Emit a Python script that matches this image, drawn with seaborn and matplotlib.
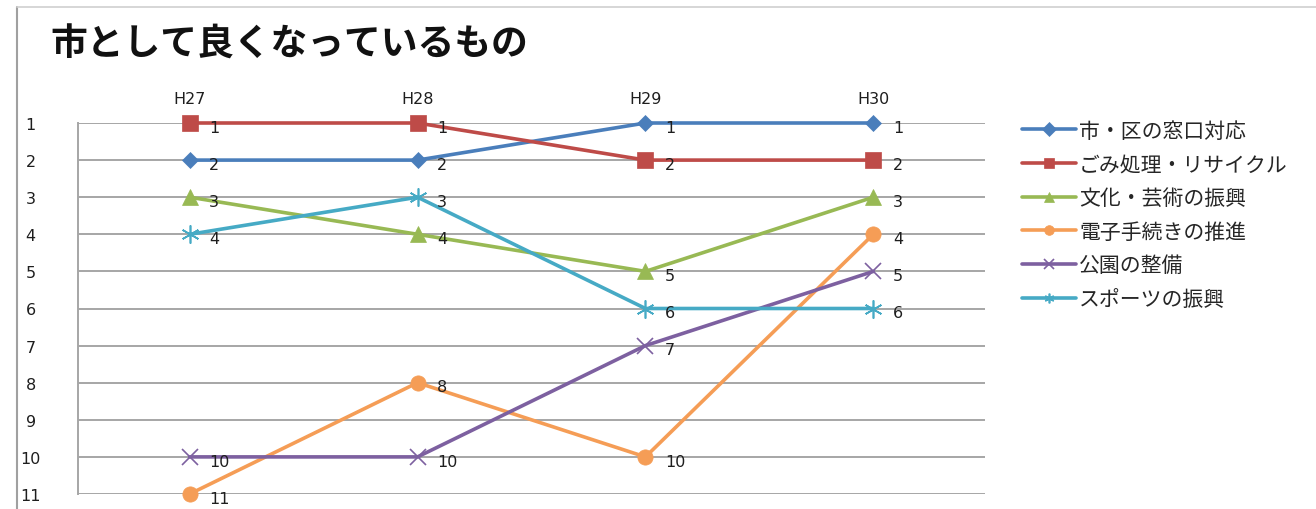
import matplotlib
matplotlib.use("Agg")
import matplotlib.pyplot as plt
import seaborn as sns
import pandas as pd

sns.set_theme(style="white")
plt.rcParams['font.family'] = ['Noto Sans CJK JP', 'DejaVu Sans']

years = ["H27", "H28", "H29", "H30"]
series_names = ["市・区の窓口対応", "ごみ処理・リサイクル", "文化・芸術の振興",
                "電子手続きの推進", "公園の整備", "スポーツの振興"]
madoguchi = [2, 2, 1, 1]
gomi = [1, 1, 2, 2]
bunka = [3, 4, 5, 3]
denshi = [11, 8, 10, 4]
koen = [10, 10, 7, 5]
sports = [4, 3, 6, 6]
values = [madoguchi, gomi, bunka, denshi, koen, sports]
rank_ticks = list(range(1, 12))

colors = ["#4A7EBB", "#BE4B48", "#98B954", "#F59D56", "#7D60A0", "#46AAC5"]
markers = ["D", "s", "^", "o", "x", (6, 2, 0)]
msizes = [8, 11, 11, 11, 11, 13]

fig = plt.figure(figsize=(13.16, 5.10), dpi=100)
ax = fig.add_axes([78/1316, 1-495/510, (985-78)/1316, (495-124)/510])

rows = []
for name, vals in zip(series_names, values):
    for i, v in enumerate(vals):
        rows.append({"x": i, "rank": v, "series": name})
df = pd.DataFrame(rows)

for name, c, m, ms in zip(series_names, colors, markers, msizes):
    sub = df[df["series"] == name]
    sns.lineplot(data=sub, x="x", y="rank", ax=ax, color=c, marker=m,
                 markersize=ms, linewidth=2.6, label=name,
                 markeredgecolor=c, markeredgewidth=1.2 if m in ("x", (6, 2, 0)) else 0.5)
    for xi, v in zip(sub["x"], sub["rank"]):
        ax.annotate(str(v), (xi, v), xytext=(14, -3), textcoords="offset points",
                    fontsize=11.5, color="#1E1E1E", va="center", ha="left",
                    fontfamily=['DejaVu Sans'])

ax.set_xlim(-0.49, 3.49)
ax.set_ylim(11, 1)
ax.set_yticks(rank_ticks)
ax.set_yticklabels([str(r) for r in rank_ticks], fontsize=11.5, color="#1E1E1E",
                   fontfamily=['DejaVu Sans'])
ax.set_xticks(range(len(years)))
ax.set_xticklabels(years, fontsize=11.5, color="#1E1E1E", fontfamily=['DejaVu Sans'])
ax.xaxis.tick_top()
ax.tick_params(axis="x", length=0, pad=12)
ax.tick_params(axis="y", length=0, pad=34)
for lab in ax.get_yticklabels():
    lab.set_horizontalalignment("center")
ax.set_xlabel("")
ax.set_ylabel("")
ax.yaxis.grid(True, color="#A6A6A6", linewidth=1.4)
ax.set_axisbelow(True)
for s in ["top", "right", "bottom"]:
    ax.spines[s].set_visible(False)
ax.spines["left"].set_color("#A6A6A6")
ax.spines["left"].set_linewidth(1.4)
for ln in ax.lines:
    ln.set_clip_on(False)

leg = ax.legend(loc="upper left", bbox_to_anchor=(1.02, 1.06), frameon=False,
                fontsize=15, handlelength=2.6, labelspacing=0.56, handletextpad=0.15)
for h in leg.legend_handles:
    h.set_markersize(7)

fig.text(50/1316, 1-45/510, "市として良くなっているもの", fontsize=26.5,
         fontweight="bold", ha="left", va="center", color="#111111")

# frame
fig.add_artist(plt.Line2D([17/1316, 17/1316], [0, 1-8/510], transform=fig.transFigure,
                          color="#A0A0A0", linewidth=1.5))
fig.add_artist(plt.Line2D([17/1316, 1], [1-8/510, 1-8/510], transform=fig.transFigure,
                          color="#D0D0D0", linewidth=1.2))

fig.savefig("out.png", dpi=100)
